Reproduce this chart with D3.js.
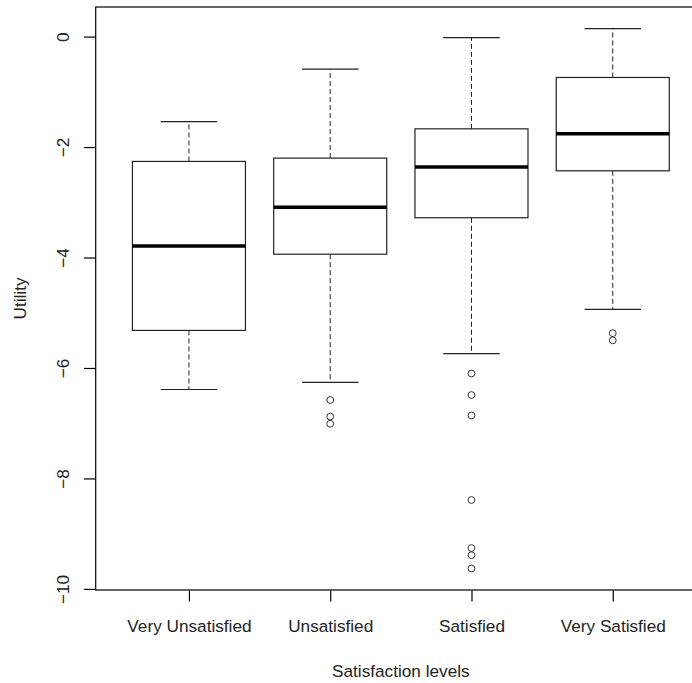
<!DOCTYPE html>
<html>
<head>
<meta charset="utf-8">
<script src="https://cdn.jsdelivr.net/npm/d3@7"></script>
<style>
    body { margin: 0; background: #fff; }
    svg { display: block; }
    text { font-family: "Liberation Sans", Arial, sans-serif; fill: #222; }
</style>
</head>
<body>
<svg id="chart" width="692" height="683"></svg>
<script>
// boxplot stats
const categories = ["Very Unsatisfied", "Unsatisfied", "Satisfied", "Very Satisfied"];
const whiskerHigh = [-1.54, -0.59, -0.02, 0.145];
const upperQuartile = [-2.26, -2.20, -1.67, -0.74];
const medians = [-3.79, -3.09, -2.36, -1.76];
const lowerQuartile = [-5.32, -3.94, -3.28, -2.43];
const whiskerLow = [-6.39, -6.26, -5.74, -4.94];
const outliers = [
    [],
    [-6.58, -6.88, -7.01],
    [-6.10, -6.49, -6.86, -8.39, -9.26, -9.39, -9.63],
    [-5.37, -5.50]
];
const yTicks = [0, -2, -4, -6, -8, -10];

function drawBoxplot() {
    const svg = d3.select('#chart');
    const fontSize = 17.2;

    // R style plot region, x axis runs off the right edge
    const left = 95.7, right = 706, top = 7, bottom = 590;

    const xScale = d3.scaleLinear()
        .domain([0.34, 4.66])
        .range([left, right]);

    const yScale = d3.scaleLinear()
        .domain([-10.02, 0.536])
        .range([bottom, top]);

    const boxes = categories.map((name, i) => ({
        name: name,
        pos: i + 1,
        hi: whiskerHigh[i],
        q3: upperQuartile[i],
        med: medians[i],
        q1: lowerQuartile[i],
        lo: whiskerLow[i],
        out: outliers[i]
    }));

    const halfBox = 0.4;
    const halfCap = 0.2;

    //frame
    svg.append('rect')
        .attr('x', left)
        .attr('y', top)
        .attr('width', right - left)
        .attr('height', bottom - top)
        .attr('fill', 'none')
        .attr('stroke', '#000')
        .attr('stroke-width', 1.2);

    const g = svg.selectAll('g.box')
        .data(boxes)
        .enter()
        .append('g')
        .attr('class', 'box');

    //whiskers
    g.append('line')
        .attr('x1', d => xScale(d.pos))
        .attr('x2', d => xScale(d.pos))
        .attr('y1', d => yScale(d.q3))
        .attr('y2', d => yScale(d.hi))
        .attr('stroke', '#222')
        .attr('stroke-dasharray', '5,3');
    g.append('line')
        .attr('x1', d => xScale(d.pos))
        .attr('x2', d => xScale(d.pos))
        .attr('y1', d => yScale(d.q1))
        .attr('y2', d => yScale(d.lo))
        .attr('stroke', '#222')
        .attr('stroke-dasharray', '5,3');

    //caps
    ['hi', 'lo'].forEach(key => {
        g.append('line')
            .attr('x1', d => xScale(d.pos - halfCap))
            .attr('x2', d => xScale(d.pos + halfCap))
            .attr('y1', d => yScale(d[key]))
            .attr('y2', d => yScale(d[key]))
            .attr('stroke', '#222')
            .attr('stroke-width', 1.2);
    });

    //box
    g.append('rect')
        .attr('x', d => xScale(d.pos - halfBox))
        .attr('width', d => xScale(d.pos + halfBox) - xScale(d.pos - halfBox))
        .attr('y', d => yScale(d.q3))
        .attr('height', d => yScale(d.q1) - yScale(d.q3))
        .attr('fill', '#fff')
        .attr('stroke', '#222')
        .attr('stroke-width', 1.2);

    //median
    g.append('line')
        .attr('x1', d => xScale(d.pos - halfBox))
        .attr('x2', d => xScale(d.pos + halfBox))
        .attr('y1', d => yScale(d.med))
        .attr('y2', d => yScale(d.med))
        .attr('stroke', '#000')
        .attr('stroke-width', 3.5);

    //outliers
    g.selectAll('circle')
        .data(d => d.out.map(v => ({ pos: d.pos, v: v })))
        .enter()
        .append('circle')
        .attr('cx', d => xScale(d.pos))
        .attr('cy', d => yScale(d.v))
        .attr('r', 3.4)
        .attr('fill', 'none')
        .attr('stroke', '#333')
        .attr('stroke-width', 1);

    //y axis
    const yAxis = d3.axisLeft(yScale)
        .tickValues(yTicks)
        .tickSize(11)
        .tickPadding(0)
        .tickFormat(d3.format('d'));
    const yAxisG = svg.append('g')
        .attr('transform', `translate(${left - 0.7}, 0)`)
        .call(yAxis);
    yAxisG.select('.domain').remove();
    yAxisG.selectAll('line').attr('stroke', '#000').attr('stroke-width', 1.2);
    yAxisG.selectAll('text')
        .attr('x', 0)
        .attr('dy', null)
        .attr('font-size', fontSize)
        .attr('text-anchor', 'middle')
        .attr('transform', 'translate(-32, 0) rotate(-90)')
        .attr('y', 6);

    //x axis
    const xAxis = d3.axisBottom(xScale)
        .tickValues(boxes.map(d => d.pos))
        .tickSize(11)
        .tickPadding(18)
        .tickFormat((d, i) => categories[i]);
    const xAxisG = svg.append('g')
        .attr('transform', `translate(0, ${bottom + 0.5})`)
        .call(xAxis);
    xAxisG.select('.domain').remove();
    xAxisG.selectAll('line').attr('stroke', '#000').attr('stroke-width', 1.2);
    xAxisG.selectAll('text')
        .attr('font-size', fontSize);

    svg.append('text')
        .attr('x', (left + right) / 2)
        .attr('y', 677)
        .attr('font-size', fontSize)
        .attr('text-anchor', 'middle')
        .text('Satisfaction levels');

    svg.append('text')
        .attr('transform', `translate(26, ${(top + bottom) / 2}) rotate(-90)`)
        .attr('font-size', fontSize)
        .attr('text-anchor', 'middle')
        .text('Utility');
}

drawBoxplot();
</script>
</body>
</html>
